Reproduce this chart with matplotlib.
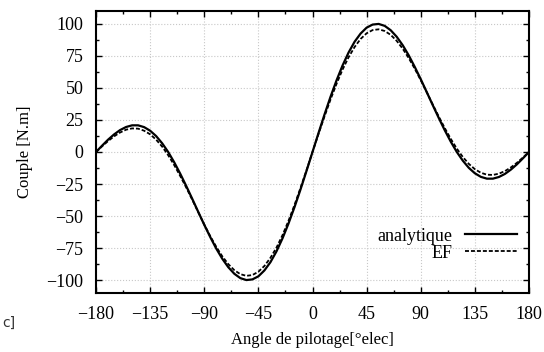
import matplotlib
matplotlib.use("Agg")
import matplotlib.pyplot as plt
from matplotlib.ticker import MultipleLocator

# Angle de pilotage (deg elec)
angle = list(range(-180, 185, 5))

# Couple analytique [N.m]
couple_analytique = [
    0.0, 4.9, 9.6, 13.7, 17.1, 19.5, 20.8, 20.8, 19.4, 16.6, 12.4, 6.8,
    0.0, -8.0, -16.9, -26.5, -36.5, -46.7, -56.8, -66.4, -75.4, -83.3, -89.9, -95.0,
    -98.4, -99.9, -99.4, -97.0, -92.4, -86.0, -77.6, -67.5, -55.9, -43.1, -29.3, -14.8,
    0.0,
    14.8, 29.3, 43.1, 55.9, 67.5, 77.6, 86.0, 92.4, 97.0, 99.4, 99.9, 98.4,
    95.0, 89.9, 83.3, 75.4, 66.4, 56.8, 46.7, 36.5, 26.5, 16.9, 8.0, 0.0,
    -6.8, -12.4, -16.6, -19.4, -20.8, -20.8, -19.5, -17.1, -13.7, -9.6, -4.9, 0.0,
]

# Couple calcule par elements finis [N.m]
couple_ef = [
    0.0, 4.4, 8.5, 12.2, 15.2, 17.4, 18.4, 18.2, 16.6, 13.8, 9.6, 4.2,
    -2.5, -10.2, -18.7, -27.7, -37.2, -47.0, -56.6, -65.7, -74.0, -81.4, -87.5, -92.2,
    -95.3, -96.6, -96.0, -93.4, -88.9, -82.6, -74.7, -65.0, -53.8, -41.4, -28.1, -14.3,
    0.0,
    14.1, 27.8, 41.0, 53.2, 64.3, 73.9, 81.9, 88.2, 92.6, 95.1, 95.7, 94.4,
    91.4, 86.7, 80.6, 73.3, 65.0, 56.0, 46.6, 37.0, 27.6, 18.6, 10.2, 2.6,
    -3.9, -9.3, -13.4, -16.2, -17.7, -17.9, -16.9, -14.9, -12.0, -8.4, -4.3, 0.0,
]

plt.rcParams['font.family'] = ['Liberation Serif', 'DejaVu Serif']

fig = plt.figure(figsize=(5.44, 3.52), dpi=100)
ax = fig.add_axes([0.1765, 0.1676, 0.7959, 0.8012])

ax.plot(angle, couple_analytique, color='black', lw=1.6, label='analytique')
ax.plot(angle, couple_ef, color='black', lw=1.3, linestyle=(0, (2.2, 1.1)), label='EF')

ax.set_xlim(-180, 180)
ax.set_ylim(-110, 110)
ax.xaxis.set_major_locator(MultipleLocator(45))
ax.xaxis.set_minor_locator(MultipleLocator(22.5))
ax.yaxis.set_major_locator(MultipleLocator(25))
ax.yaxis.set_minor_locator(MultipleLocator(12.5))

ax.tick_params(which='both', direction='in', top=True, right=True, labelsize=13, width=1.0)
ax.tick_params(which='major', length=4, pad=9)
ax.tick_params(which='minor', length=2.5)
for s in ax.spines.values():
    s.set_linewidth(1.5)

ax.grid(True, which='major', linestyle=':', color='#c8c8c8', linewidth=0.8)

ax.set_xlabel('Angle de pilotage[°elec]', fontsize=12, labelpad=7)
ax.set_ylabel('Couple [N.m]', fontsize=12, labelpad=10)

ax.legend(loc='lower right', bbox_to_anchor=(0.99, 0.085), frameon=False,
          markerfirst=False, fontsize=13, handlelength=2.9, handletextpad=0.7,
          labelspacing=0.0, borderaxespad=0)

# bout de texte coupe en bas a gauche
fig.text(0.004, 0.072, 'c]', fontsize=10, color='#333333', family='DejaVu Sans')

fig.savefig('out.png', dpi=100)
